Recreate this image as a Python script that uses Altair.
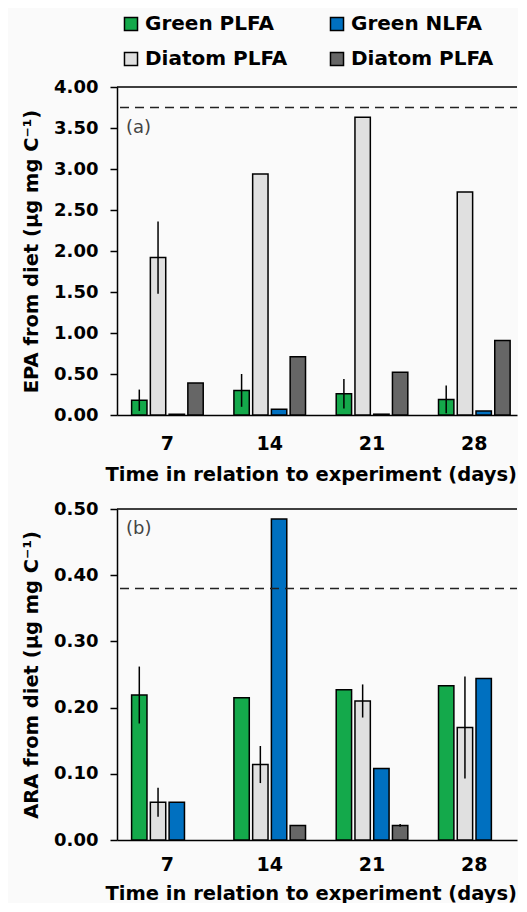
import altair as alt
import pandas as pd

days = ["7", "14", "21", "28"]
bar_order = ["Green PLFA", "Diatom PLFA", "Green  NLFA", "Diatom NLFA"]
legend_order = ["Green PLFA", "Diatom PLFA", "Green  NLFA", "Diatom NLFA"]
legend_colors = ["#14a94b", "#e0e0e0", "#0070c0", "#666666"]

# Panel (a) EPA
epa_green_plfa = [0.18, 0.30, 0.26, 0.19]
epa_green_plfa_err = [0.13, 0.20, 0.18, 0.17]
epa_diatom_plfa = [1.92, 2.94, 3.63, 2.72]
epa_diatom_plfa_err = [0.44, None, None, None]
epa_green_nlfa = [0.01, 0.07, 0.01, 0.05]
epa_green_nlfa_err = [None, None, None, None]
epa_diatom_nlfa = [0.39, 0.71, 0.52, 0.91]
epa_diatom_nlfa_err = [None, None, None, None]
epa_ref = 3.75

# Panel (b) ARA
ara_green_plfa = [0.219, 0.215, 0.227, 0.233]
ara_green_plfa_err = [0.043, None, None, None]
ara_diatom_plfa = [0.057, 0.114, 0.210, 0.170]
ara_diatom_plfa_err = [0.022, 0.028, 0.025, 0.077]
ara_green_nlfa = [0.057, 0.485, 0.108, 0.244]
ara_green_nlfa_err = [None, None, None, None]
ara_diatom_nlfa = [None, 0.022, 0.022, None]
ara_diatom_nlfa_err = [None, None, 0.002, None]
ara_ref = 0.38

FONT = "DejaVu Sans"
W = 400
X_TITLE = "Time in relation to experiment (days)"


def build(vals, errs):
    rows = []
    for s in bar_order:
        for d, v, e in zip(days, vals[s], errs[s]):
            if v is None:
                continue
            rows.append({"day": d, "series": s, "value": v,
                         "lo": (v - e) if e is not None else None,
                         "hi": (v + e) if e is not None else None})
    return pd.DataFrame(rows)


def panel(df, ymax, ticks, ref, tag, tag_y, ytitle, height, lpad, tpad):
    x = alt.X("day:N", sort=days, title=X_TITLE,
              scale=alt.Scale(paddingInner=0.30, paddingOuter=0.105, align=0.68),
              axis=alt.Axis(labelAngle=0, ticks=False, labelPadding=lpad,
                            labelFontSize=19, labelFontWeight="bold",
                            titleFontSize=19.5, titleFontWeight="bold", titlePadding=tpad,
                            titleAnchor="start", titleAlign="left", titleX=-12,
                            domainWidth=1.5))
    xo = alt.XOffset("series:N", sort=bar_order,
                     scale=alt.Scale(domain=bar_order, paddingInner=0.18, paddingOuter=0))
    yscale = alt.Scale(domain=[0, ymax], nice=False, zero=True)
    yaxis = alt.Axis(values=ticks, format=".2f", grid=False, tickSize=7, tickWidth=1.5,
                     domainWidth=1.5, labelPadding=12, labelFontSize=18,
                     labelFontWeight="bold", titleFontSize=19.5, titleFontWeight="bold",
                     titlePadding=12)
    bars = alt.Chart(df).mark_bar(stroke="black", strokeWidth=1.5).encode(
        x=x, xOffset=xo,
        y=alt.Y("value:Q", scale=yscale, axis=yaxis, title=ytitle),
        color=alt.Color("series:N",
                        scale=alt.Scale(domain=legend_order, range=legend_colors),
                        legend=alt.Legend(
                            orient="none", legendX=4, legendY=-73, columns=2,
                            title=None, symbolType="square", symbolSize=170,
                            symbolStrokeColor="black", symbolStrokeWidth=1.5,
                            labelFont=FONT, labelFontSize=20, labelFontWeight="bold",
                            labelColor="black", labelOffset=4, columnPadding=39,
                            rowPadding=15,
                            labelExpr="datum.label == 'Diatom NLFA' ? 'Diatom PLFA' : datum.label")),
    )
    errs = alt.Chart(df.dropna(subset=["lo"])).mark_rule(color="black", strokeWidth=1.5).encode(
        x=x, xOffset=xo,
        y=alt.Y("lo:Q", scale=yscale, axis=yaxis, title=ytitle),
        y2="hi:Q",
    )
    one = pd.DataFrame({"k": [0]})
    dash = alt.Chart(one).mark_rule(color="#222222", strokeWidth=1.5, strokeDash=[9, 6]).encode(
        y=alt.datum(ref), x=alt.value(3), x2=alt.value(W))
    top = alt.Chart(one).mark_rule(color="black", strokeWidth=1.5).encode(
        y=alt.datum(ymax), x=alt.value(0), x2=alt.value(W))
    txt = alt.Chart(one).mark_text(align="left", baseline="middle", font=FONT,
                                   fontSize=18, color="#444444").encode(
        x=alt.value(9), y=alt.value(tag_y), text=alt.value(tag))
    return alt.layer(bars, errs, dash, top, txt).properties(width=W, height=height)


epa = build({"Green PLFA": epa_green_plfa, "Diatom PLFA": epa_diatom_plfa,
             "Green  NLFA": epa_green_nlfa, "Diatom NLFA": epa_diatom_nlfa},
            {"Green PLFA": epa_green_plfa_err, "Diatom PLFA": epa_diatom_plfa_err,
             "Green  NLFA": epa_green_nlfa_err, "Diatom NLFA": epa_diatom_nlfa_err})
ara = build({"Green PLFA": ara_green_plfa, "Diatom PLFA": ara_diatom_plfa,
             "Green  NLFA": ara_green_nlfa, "Diatom NLFA": ara_diatom_nlfa},
            {"Green PLFA": ara_green_plfa_err, "Diatom PLFA": ara_diatom_plfa_err,
             "Green  NLFA": ara_green_nlfa_err, "Diatom NLFA": ara_diatom_nlfa_err})

pa = panel(epa, 4.0, [0, 0.5, 1.0, 1.5, 2.0, 2.5, 3.0, 3.5, 4.0], epa_ref, "(a)", 41,
           "EPA from diet (µg mg C⁻¹)", 328, 19, 12)
pb = panel(ara, 0.5, [0, 0.1, 0.2, 0.3, 0.4, 0.5], ara_ref, "(b)", 20,
           "ARA from diet (µg mg C⁻¹)", 331, 15, 10)

chart = alt.vconcat(pa, pb, spacing=16).properties(
    background="#fafafa",
    padding={"left": 13, "top": 6, "right": 0, "bottom": 0},
).configure_view(stroke=None).configure_axis(
    labelFont=FONT, titleFont=FONT, labelColor="black", titleColor="black",
    domainColor="black", tickColor="black",
)

chart.save("out.html", embed_options={"renderer": "svg", "actions": False})
